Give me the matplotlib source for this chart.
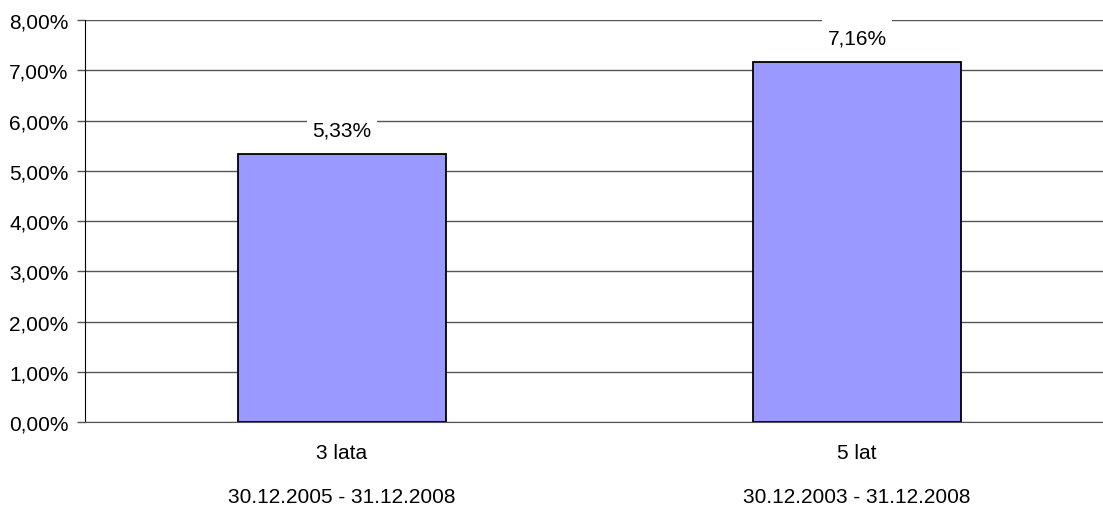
import matplotlib
matplotlib.use('Agg')
import matplotlib.pyplot as plt
from matplotlib.ticker import FuncFormatter

categories = ['3 lata', '5 lat']
periods = ['30.12.2005 - 31.12.2008', '30.12.2003 - 31.12.2008']
values = [5.33, 7.16]
yticks = [0, 1, 2, 3, 4, 5, 6, 7, 8]

plt.rcParams['font.family'] = ['Liberation Sans', 'DejaVu Sans']
FS = 15

fig = plt.figure(figsize=(11.03, 5.06), dpi=100)
W, H = 1103, 506
left, right, top, bottom = 84.5, 1114.5, 21, 423.3
ax = fig.add_axes([left / W, 1 - bottom / H, (right - left) / W, (bottom - top) / H])

x = list(range(len(categories)))
ax.bar(x, values, width=0.404, color='#9999FF', edgecolor='black', linewidth=1.3, zorder=3)
ax.set_xlim(-0.5, len(categories) - 0.5)
ax.set_ylim(0, 8)
ax.set_yticks(yticks)
ax.yaxis.set_major_formatter(FuncFormatter(lambda v, p: f'{v:.2f}%'.replace('.', ',')))
ax.grid(axis='y', color='#555555', linewidth=1, zorder=0)
ax.tick_params(axis='y', length=6, width=1, color='#555555', pad=5.5, labelsize=FS)
ax.tick_params(axis='x', length=0)
ax.set_xticks([])
for s in ['top', 'right']:
    ax.spines[s].set_visible(False)
ax.spines['bottom'].set_color('#555555')
ax.spines['left'].set_color('black')

# empty first line makes the white label box tall, as in the original
for xi, v in zip(x, values):
    ax.annotate('\n' + f'{v:.2f}%'.replace('.', ','), (xi, v), xytext=(0, 10.5), textcoords='offset points',
                ha='center', va='bottom', fontsize=FS, zorder=2,
                bbox=dict(boxstyle='square,pad=0.25', fc='white', ec='none'))

trans = ax.get_xaxis_transform()
for xi, c, p in zip(x, categories, periods):
    ax.text(xi, -30 / (bottom - top), c, transform=trans, ha='center', va='center', fontsize=FS)
    ax.text(xi, -74 / (bottom - top), p, transform=trans, ha='center', va='center', fontsize=FS)

fig.savefig('out.png', dpi=100)
